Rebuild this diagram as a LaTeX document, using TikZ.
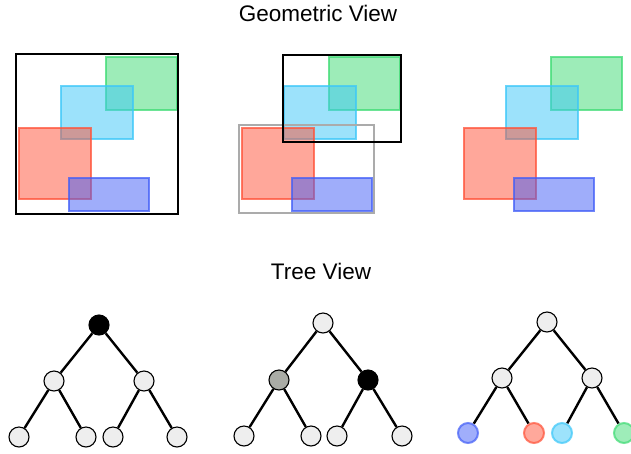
\documentclass[tikz,border=0pt]{standalone}
\usepackage{fontspec}
\setmainfont{Liberation Sans}
\usepackage{tikz}
\usetikzlibrary{positioning}
\definecolor{boxgreen}{RGB}{61, 219, 115}
\definecolor{boxcyan}{RGB}{59, 199, 249}
\definecolor{boxred}{RGB}{255, 81, 55}
\definecolor{boxblue}{RGB}{65, 93, 247}
\definecolor{nodegray}{RGB}{238, 238, 238}
\definecolor{midgray}{RGB}{170, 172, 166}
\tikzset{
    box/.style={fill=#1, fill opacity=0.5, draw=#1, draw opacity=0.75, line width=2pt},
    frame/.style={draw=#1, line width=2.8pt},
    title/.style={anchor=base, font=\fontsize{22.5}{27}\selectfont},
    treenode/.style={circle, draw=black, line width=1.1pt, fill=nodegray, minimum size=20pt, inner sep=0pt},
    leafnode/.style={circle, draw=#1, draw opacity=0.7, line width=2pt, fill=#1!50, minimum size=20pt, inner sep=0pt},
    edge/.style={black, line width=2.4pt}
}

\begin{document}
\begin{tikzpicture}[x=1pt, y=-1pt]
    \useasboundingbox[fill=white] (0,0) rectangle (631,453);
    \node[title] (geotitle)  at (318, 21) {Geometric View};
    \node[title] (treetitle) at (321,279) {Tree View};
    % Boxes, same layout in every panel
    \foreach \dx in {0, 222.5, 445} {
        \begin{scope}[xshift=\dx]
            \path[box=boxgreen] (106, 57) rectangle (177,110);
            \path[box=boxcyan]  ( 61, 86) rectangle (133,139);
            \path[box=boxred]   ( 19,128) rectangle ( 91,199);
            \path[box=boxblue]  ( 69,178) rectangle (149,211);
        \end{scope}
    }
    % Bounding frames
    \draw[frame=black]          ( 16, 54) rectangle (178,214);
    \draw[frame=black!33]       (239,125) rectangle (374,213);
    \draw[frame=black]          (283, 55) rectangle (401,142);

    % Tree 1
    \node[treenode, fill=black] (t1root) at ( 99,325) {};
    \node[treenode]             (t1l)    at ( 54,381) {};
    \node[treenode]             (t1r)    at (144,381) {};
    \node[treenode]             (t1ll)   at ( 19,437) {};
    \node[treenode]             (t1lr)   at ( 86,437) {};
    \node[treenode]             (t1rl)   at (113,437) {};
    \node[treenode]             (t1rr)   at (177,437) {};
    % Tree 2
    \node[treenode]               (t2root) at (323,323) {};
    \node[treenode, fill=midgray] (t2l)    at (279,380) {};
    \node[treenode, fill=black]   (t2r)    at (368,380) {};
    \node[treenode]               (t2ll)   at (244,436) {};
    \node[treenode]               (t2lr)   at (311,436) {};
    \node[treenode]               (t2rl)   at (337,436) {};
    \node[treenode]               (t2rr)   at (402,436) {};
    % Tree 3
    \node[treenode]           (t3root) at (547,322) {};
    \node[treenode]           (t3l)    at (502,378) {};
    \node[treenode]           (t3r)    at (592,378) {};
    \node[leafnode=boxblue]   (t3ll)   at (468,433) {};
    \node[leafnode=boxred]    (t3lr)   at (534,433) {};
    \node[leafnode=boxcyan]   (t3rl)   at (562,433) {};
    \node[leafnode=boxgreen]  (t3rr)   at (624,433) {};

    \foreach \t in {t1, t2, t3} {
        \draw[edge] (\t root) -- (\t l);
        \draw[edge] (\t root) -- (\t r);
        \draw[edge] (\t l) -- (\t ll);
        \draw[edge] (\t l) -- (\t lr);
        \draw[edge] (\t r) -- (\t rl);
        \draw[edge] (\t r) -- (\t rr);
    }
\end{tikzpicture}
\end{document}
